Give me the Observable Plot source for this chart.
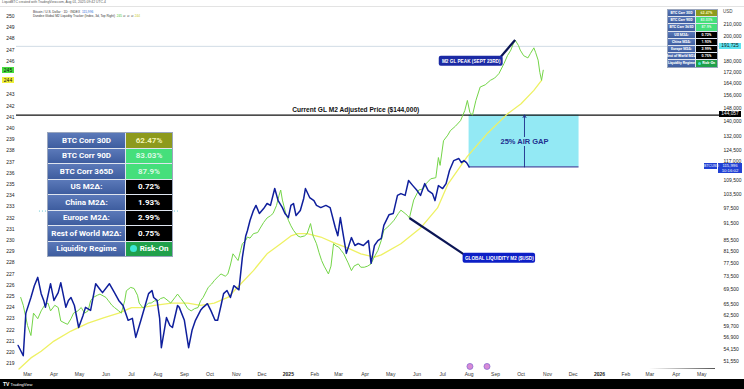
<!DOCTYPE html>
<html><head><meta charset="utf-8">
<script src="https://cdn.jsdelivr.net/npm/d3@7"></script>
<script src="https://cdn.jsdelivr.net/npm/@observablehq/plot@0.6"></script>
<style>
body{margin:0;background:#fff;}
#wrap{position:relative;width:744px;height:389px;overflow:hidden;background:#fff;font-family:"Liberation Sans",Arial,sans-serif;}
.layer{position:absolute;left:0;top:0;}
.abs{position:absolute;white-space:nowrap;}
.tbl{position:absolute;display:grid;font-family:Roboto,"Liberation Sans",sans-serif;font-weight:700;border:1px solid #9aa6bd;background:#dfe5ef;gap:1px;}
.tbl div{display:flex;align-items:center;justify-content:center;white-space:nowrap;}
.lab{background:linear-gradient(#5b79b9,#3e5d9f);color:#fff;}
</style></head><body><div id="wrap"></div>
<script>
// ---------------- data ----------------
const btcDates = ["2024-02-19","2024-02-25","2024-02-28","2024-03-05","2024-03-09","2024-03-13","2024-03-17","2024-03-20","2024-03-22","2024-03-28","2024-04-01","2024-04-06","2024-04-09","2024-04-15","2024-04-18","2024-04-21","2024-04-25","2024-04-30","2024-05-05","2024-05-08","2024-05-14","2024-05-20","2024-05-26","2024-05-28","2024-06-05","2024-06-11","2024-06-16","2024-06-21","2024-06-27","2024-07-02","2024-07-06","2024-07-12","2024-07-17","2024-07-21","2024-07-25","2024-07-27","2024-07-31","2024-08-03","2024-08-05","2024-08-11","2024-08-15","2024-08-18","2024-08-24","2024-08-26","2024-09-01","2024-09-06","2024-09-10","2024-09-14","2024-09-20","2024-09-23","2024-09-28","2024-10-02","2024-10-07","2024-10-10","2024-10-14","2024-10-17","2024-10-21","2024-10-25","2024-10-29","2024-11-04","2024-11-08","2024-11-12","2024-11-14","2024-11-17","2024-11-21","2024-11-24","2024-11-28","2024-12-03","2024-12-07","2024-12-11","2024-12-16","2024-12-20","2024-12-25","2024-12-28","2025-01-01","2025-01-04","2025-01-07","2025-01-10","2025-01-15","2025-01-19","2025-01-21","2025-01-26","2025-01-31","2025-02-03","2025-02-08","2025-02-14","2025-02-19","2025-02-25","2025-02-28","2025-03-03","2025-03-10","2025-03-16","2025-03-20","2025-03-24","2025-03-30","2025-04-05","2025-04-08","2025-04-12","2025-04-16","2025-04-20","2025-04-23","2025-04-29","2025-05-04","2025-05-09","2025-05-13","2025-05-18","2025-05-22","2025-05-27","2025-06-01","2025-06-05","2025-06-10","2025-06-14","2025-06-19","2025-06-22","2025-06-26","2025-07-01","2025-07-05","2025-07-09","2025-07-14","2025-07-20","2025-07-23","2025-07-26","2025-07-29","2025-07-31","2025-08-01"];
const btcPrices = [55100,52800,63000,67300,70700,73200,68400,66500,64600,71300,66500,68700,71600,64600,66500,67300,65100,59400,62400,64600,63800,71300,69300,68700,71300,68700,66500,65100,61200,61700,57000,61200,65100,68400,69300,67300,66500,61700,54600,61900,59900,59400,65100,64600,61200,54600,58700,61200,63800,64600,65600,63800,61200,61200,65100,68400,69300,67300,70700,69500,79500,87000,89000,92800,96700,98800,95500,97500,99600,98800,106000,100800,97900,95500,93900,98800,99600,94700,96700,101700,106000,102100,100800,98800,97900,98800,97900,90100,87100,93900,80900,86400,83600,84300,83600,85300,77600,83600,85300,86100,90900,95000,95500,103000,103800,103000,109600,107300,105100,103000,108200,105100,103800,100800,107300,106000,108200,114300,119100,120100,118100,119100,118100,116700,115996];

const m2Dates = ["2024-02-22","2024-02-25","2024-03-01","2024-03-05","2024-03-08","2024-03-13","2024-03-17","2024-03-21","2024-03-25","2024-03-28","2024-04-02","2024-04-06","2024-04-09","2024-04-14","2024-04-17","2024-04-21","2024-04-24","2024-04-29","2024-05-03","2024-05-07","2024-05-11","2024-05-14","2024-05-17","2024-05-22","2024-05-25","2024-06-01","2024-06-04","2024-06-08","2024-06-11","2024-06-16","2024-06-19","2024-06-23","2024-06-25","2024-06-30","2024-07-04","2024-07-08","2024-07-10","2024-07-14","2024-07-16","2024-07-21","2024-07-24","2024-07-28","2024-08-01","2024-08-04","2024-08-08","2024-08-13","2024-08-16","2024-08-21","2024-08-24","2024-08-28","2024-09-01","2024-09-05","2024-09-09","2024-09-13","2024-09-17","2024-09-20","2024-09-23","2024-09-27","2024-09-29","2024-10-03","2024-10-06","2024-10-11","2024-10-14","2024-10-19","2024-10-22","2024-10-25","2024-10-28","2024-11-01","2024-11-03","2024-11-06","2024-11-08","2024-11-12","2024-11-14","2024-11-17","2024-11-21","2024-11-26","2024-11-29","2024-12-03","2024-12-07","2024-12-11","2024-12-14","2024-12-18","2024-12-21","2024-12-23","2024-12-25","2024-12-29","2025-01-01","2025-01-04","2025-01-07","2025-01-12","2025-01-15","2025-01-20","2025-01-23","2025-01-27","2025-01-30","2025-02-03","2025-02-06","2025-02-09","2025-02-12","2025-02-17","2025-02-20","2025-02-23","2025-02-26","2025-03-01","2025-03-04","2025-03-07","2025-03-12","2025-03-16","2025-03-19","2025-03-24","2025-03-27","2025-03-31","2025-04-04","2025-04-08","2025-04-11","2025-04-16","2025-04-20","2025-04-23","2025-04-29","2025-05-05","2025-05-10","2025-05-13","2025-05-18","2025-05-21","2025-05-23","2025-05-28","2025-06-03","2025-06-08","2025-06-12","2025-06-17","2025-06-23","2025-06-26","2025-06-28","2025-07-02","2025-07-07","2025-07-10","2025-07-16","2025-07-22","2025-07-27","2025-07-30","2025-08-02","2025-08-05","2025-08-09","2025-08-14","2025-08-20","2025-08-26","2025-08-31","2025-09-05","2025-09-11","2025-09-15","2025-09-19","2025-09-22","2025-09-24","2025-09-28","2025-09-30","2025-10-04","2025-10-09","2025-10-12","2025-10-16","2025-10-18","2025-10-21","2025-10-23","2025-10-25","2025-10-27"];
const m2Values = [224.9,224.2,222.4,221.5,223.5,223.0,223.7,224.2,224.4,223.7,224.2,224.0,222.8,222.6,222.5,223.0,223.5,223.7,224.0,223.5,223.7,224.6,224.9,225.1,225.2,224.9,224.6,224.2,224.0,223.7,223.5,224.6,225.5,225.8,225.7,225.1,224.4,224.0,224.0,224.4,224.4,224.6,224.6,224.8,224.9,224.6,224.4,224.9,225.2,224.8,224.4,223.9,223.7,223.9,224.0,224.6,224.9,225.5,225.8,226.1,226.4,226.8,227.0,226.8,227.0,227.8,228.8,228.4,228.2,229.1,229.7,230.0,230.3,230.2,230.6,230.7,231.1,231.6,232.0,232.2,232.4,233.1,234.0,234.5,233.6,232.4,231.8,231.3,230.9,230.4,230.3,230.4,230.6,231.5,230.4,229.7,228.9,228.2,227.7,227.0,227.7,229.7,229.5,229.4,229.1,228.8,228.0,227.3,227.7,227.9,227.6,227.6,227.7,227.9,228.4,229.1,230.0,230.9,231.3,231.8,232.4,232.7,232.4,232.2,232.0,233.6,234.5,234.6,235.1,235.5,235.6,237.4,236.7,238.9,239.4,239.8,240.2,240.7,241.6,242.5,241.4,241.2,242.5,243.7,243.9,244.3,244.5,244.9,245.8,246.5,247.0,247.6,247.9,247.4,247.0,246.5,246.3,246.7,247.2,246.8,246.1,245.0,244.3,245.2];

const maDates = ["2024-02-20","2024-03-05","2024-03-17","2024-04-01","2024-04-21","2024-05-11","2024-05-30","2024-06-16","2024-07-01","2024-07-13","2024-07-28","2024-08-17","2024-09-05","2024-09-20","2024-10-06","2024-10-22","2024-11-06","2024-11-21","2024-12-07","2024-12-23","2025-01-04","2025-01-12","2025-01-23","2025-02-08","2025-02-23","2025-03-12","2025-03-27","2025-04-12","2025-04-20","2025-05-13","2025-06-05","2025-06-25","2025-07-07","2025-07-30","2025-08-23","2025-09-15","2025-10-01","2025-10-16","2025-10-25"];
const maValues = [218.5,219.5,220.1,221.0,221.9,222.6,223.1,223.5,224.0,224.0,224.2,224.4,224.4,224.2,224.4,224.9,226.1,227.3,228.8,229.7,230.4,230.6,230.6,230.3,229.8,229.3,228.8,228.5,228.7,229.7,231.1,232.9,235.0,237.5,239.6,241.3,242.2,243.4,244.3];

const leftTicks = [219,220,221,222,223,224,225,226,227,228,229,230,231,232,233,234,235,236,237,238,239,240,241,242,243,246,247,248,249,250];
const rightTicks = [210000,200000,180000,172000,164000,156000,148000,140000,132000,124500,109500,103500,97500,91500,85500,81500,77500,73500,69500,65500,62500,59700,56900,54150,51550];
const rightTickNearPrice = [117000];
const monthTicks = ["2024-03","2024-04","2024-05","2024-06","2024-07","2024-08","2024-09","2024-10","2024-11","2024-12","2025-01","2025-02","2025-03","2025-04","2025-05","2025-06","2025-07","2025-08","2025-09","2025-10","2025-11","2025-12","2026-01","2026-02","2026-03","2026-04","2026-05"];

const adjustedPrice = 144000;
const adjustedTag = 144057;
const peakLine = 191725;
const lastBtc = 115996;
const gap = {start:"2025-08-01", end:"2025-12-08", arrowAt:"2025-10-05", textValue:129000, label:"25% AIR GAP"};
const adjustedLabel = {date:"2025-03-21", text:"Current GL M2 Adjusted Price ($144,000)"};
const dotted = {start:"2024-03-15", end:"2024-08-25", value:96500};
const eventDates = ["2025-08-02","2025-08-22"];
const notes = [
  {label:"M2 GL PEAK (SEPT 23RD)", x1:"2025-06-27", x2:"2025-09-10", y1:245.55, y2:246.45, tipDate:"2025-09-24", tipValue:247.9, baseDate:"2025-09-06", baseValue:246.3, fill:"#1b2aa4"},
  {label:"GLOBAL LIQUIDITY M2 ($USD)", x1:"2025-07-25", x2:"2025-10-18", y1:227.95, y2:228.85, tipDate:"2025-05-23", tipValue:232.0, baseDate:"2025-07-29", baseValue:228.6, fill:"#0d1fc6"}
];
const tableLabels = ["BTC Corr 30D","BTC Corr 90D","BTC Corr 365D","US M2Δ:","China M2Δ:","Europe M2Δ:","Rest of World M2Δ:","Liquidity Regime"];
const tableValues = ["62.47%","83.03%","87.9%","0.72%","1.93%","2.99%","0.75%","Risk-On"];
const tableColors = [["#8d9a1d","#f3f5b5"],["#45df7b","#d9f8e3"],["#45df7b","#d9f8e3"],["#000","#fff"],["#000","#fff"],["#000","#fff"],["#000","#fff"],["#20a04b","#fff"]];

// ---------------- build ----------------
const parse = d3.utcParse("%Y-%m-%d");
const pm = d3.utcParse("%Y-%m");
const btc = btcDates.map((d,i)=>({date:parse(d), v:btcPrices[i]}));
const m2 = m2Dates.map((d,i)=>({date:parse(d), v:m2Values[i]}));
const ma = maDates.map((d,i)=>({date:parse(d), v:maValues[i]}));
const months = monthTicks.map(pm);

const W = 744, H = 389;
const font = "font-family:'Liberation Sans',Arial,sans-serif;";
const xS = {type:"utc", domain:[parse("2024-02-01"), parse("2026-05-20")], range:[2.3, 717.5]};
const yBtc = {type:"log", domain:[51550, 210000], range:[361, 24]};
const yM2 = {type:"linear", domain:[219, 250], range:[363, 16]};
const base = {width:W, height:H, marginLeft:16, marginRight:24, marginTop:8, marginBottom:20,
  style:"background:transparent;overflow:visible;" + font};

const wrap = document.getElementById("wrap");
function layer(p){ const d=document.createElement("div"); d.className="layer"; d.appendChild(p); wrap.appendChild(d); return p; }

// Layer 1: BTC-scale background marks + right axis
const g = {x1:parse(gap.start), x2:parse(gap.end), ax:parse(gap.arrowAt), y1:lastBtc, y2:adjustedPrice};
const p1 = layer(Plot.plot({...base, x:{...xS, axis:null}, y:{...yBtc, axis:null}, marks:[
  Plot.ruleY([peakLine], {stroke:"#c5d3e0", strokeWidth:0.8}),
  Plot.ruleY([dotted], {y:"value", x1:d=>parse(d.start), x2:d=>parse(d.end), stroke:"#6cc9d6", strokeDasharray:"1,2"}),
  Plot.rect([g], {x1:"x1", x2:"x2", y1:"y1", y2:"y2", fill:"#93e9f4"}),
  Plot.ruleY([g], {y:"y1", x1:"x1", x2:"x2", stroke:"#17228a", strokeWidth:1}),
  Plot.ruleY([adjustedPrice], {stroke:"#111", strokeWidth:1.3}),
  Plot.arrow([g], {x1:"ax", x2:"ax", y1:"y1", y2:"y2", stroke:"#1d2b8a", strokeWidth:0.9, headLength:5}),
  Plot.text([gap], {x:d=>parse(d.arrowAt), y:"textValue", text:"label", fill:"#1e2f8e", fontWeight:"bold", fontSize:7.5, stroke:"#93e9f4", strokeWidth:4}),
  Plot.text([adjustedLabel], {x:d=>parse(d.date), y:()=>adjustedPrice, text:"text", dy:-5.5, fill:"#111", fontWeight:"bold", fontSize:6.6}),
  Plot.dot(eventDates, {x:d=>parse(d), y:()=>50500, r:3, fill:"#d78ad6", stroke:"#8a6bd2", strokeWidth:0.8}),
  Plot.axisY({anchor:"right", ticks:rightTicks, tickSize:0, tickPadding:3, fontSize:5, fill:"#222", tickFormat:d3.format(",")}),
  Plot.axisY({anchor:"right", ticks:rightTickNearPrice, tickSize:0, tickPadding:3, dy:-3, fontSize:5, fill:"#222", tickFormat:d3.format(",")})
]}));

// Layer 2: M2 lines, left axis, x axis, annotations
const p2 = layer(Plot.plot({...base, x:{...xS}, y:{...yM2}, marks:[
  Plot.axisX(months.filter(d=>d.getUTCMonth()!==0), {tickSize:0, tickPadding:3, fontSize:5, fill:"#333", tickFormat:d3.utcFormat("%b")}),
  Plot.axisX(months.filter(d=>d.getUTCMonth()===0), {tickSize:0, tickPadding:3, fontSize:5, fill:"#222", fontWeight:"bold", tickFormat:d3.utcFormat("%Y")}),
  Plot.axisY({anchor:"left", ticks:leftTicks, tickSize:0, tickPadding:2, fontSize:5, fill:"#222"}),
  Plot.line(ma, {x:"date", y:"v", stroke:"#eef163", strokeWidth:1.3}),
  Plot.line(m2, {x:"date", y:"v", stroke:"#74d548", strokeWidth:1}),
  Plot.link(notes, {x1:d=>parse(d.tipDate), y1:"tipValue", x2:d=>parse(d.baseDate), y2:"baseValue", stroke:"#0b1555", strokeWidth:2.2}),
  Plot.rect(notes, {x1:d=>parse(d.x1), x2:d=>parse(d.x2), y1:"y1", y2:"y2", fill:"fill", rx:2}),
  Plot.text(notes, {x:d=>new Date((+parse(d.x1) + +parse(d.x2))/2), y:d=>(d.y1+d.y2)/2, text:"label", fill:"#fff", fontWeight:"bold", fontSize:4.7})
]}));

// Layer 3: BTC line on top
const p3 = layer(Plot.plot({...base, x:{...xS, axis:null}, y:{...yBtc, axis:null}, marks:[
  Plot.line(btc, {x:"date", y:"v", stroke:"#0f1f9c", strokeWidth:1.5})
]}));

// ---------------- HTML overlays ----------------
function el(html, css){ const d=document.createElement("div"); d.className="abs"; d.style.cssText=css; d.innerHTML=html; wrap.appendChild(d); return d; }
const yB = v => p1.scale("y").apply(v);
const yL = v => p2.scale("y").apply(v);

function tag(text, x, w, yc, h, bg, fg, fs){ el(text, `left:${x}px;top:${yc-h/2}px;width:${w}px;height:${h}px;line-height:${h}px;background:${bg};color:${fg};font-size:${fs}px;text-align:center;${font}`); }
tag(String(Math.round(m2Values[m2Values.length-1])), 2, 12, yL(m2Values[m2Values.length-1]), 6, "#46dc3e", "#111", 5);
tag(String(Math.round(maValues[maValues.length-1])), 2, 12, yL(maValues[maValues.length-1]), 6, "#f1f13a", "#111", 5);
tag(d3.format(",")(peakLine), 719, 22, yB(peakLine), 6, "#5de3ef", "#111", 4.8);
tag(d3.format(",")(adjustedTag), 719, 22, yB(adjustedTag), 6, "#000", "#fff", 4.8);
const yl = yB(lastBtc);
el(`${d3.format(",")(lastBtc)}<br>10:16:02`, `left:718px;top:${yl-3}px;width:24px;height:10px;line-height:5px;background:#2141d4;color:#fff;font-size:4.3px;text-align:center;${font}`);
el("BTCUSD", `left:704px;top:${yl-3}px;width:13px;height:6px;line-height:6px;background:#2141d4;color:#fff;font-size:3.6px;text-align:center;${font}`);
el("USD", `left:723px;top:9px;font-size:4.5px;color:#444;${font}`);

// header & legend
el("LiquidBTC created with TradingView.com, Aug 01, 2025 09:42 UTC-4", `left:2px;top:0px;font-size:3.4px;color:#555;${font}`);
el("", `left:0;top:6px;width:744px;height:0;border-top:0.5px solid #e3e3e3;`);
el(`Bitcoin / U.S. Dollar · 1D · INDEX &nbsp;<span style="color:#2a6bd8">${d3.format(",")(lastBtc)}</span>`, `left:33px;top:10px;font-size:3.2px;color:#333;${font}`);
el(`Dundee Global M2 Liquidity Tracker (Index, 3d, Top Right) &nbsp;<span style="color:#3fbf3a">245</span> ∅ ∅ ∅ <span style="color:#c9c92a">244</span>`, `left:33px;top:14px;font-size:3.2px;color:#333;${font}`);

// tables
function table(left, top, lw, vw, rh, fs, dot){
  const t = document.createElement("div"); t.className="tbl";
  t.style.cssText = `left:${left}px;top:${top}px;grid-template-columns:${lw}px ${vw}px;grid-auto-rows:${rh}px;font-size:${fs}px;`;
  tableLabels.forEach((lab,i)=>{
    const a=document.createElement("div"); a.className="lab"; a.textContent=lab; t.appendChild(a);
    const b=document.createElement("div"); b.style.background=tableColors[i][0]; b.style.color=tableColors[i][1];
    if(i===tableLabels.length-1){ b.innerHTML=`<span style="display:inline-block;width:${dot}px;height:${dot}px;border-radius:50%;background:#3de6d4;margin-right:${dot*0.45}px"></span>${tableValues[i]}`; }
    else b.textContent=tableValues[i];
    t.appendChild(b);
  });
  wrap.appendChild(t);
}
table(47, 132, 77, 46, 14.5, 8, 7);
table(667, 9, 27, 21, 6.2, 3.6, 3);

// footer
el(`<b style="font-size:5px">TV</b> TradingView`, `left:0;top:379px;width:744px;height:10px;background:#000;color:#fff;font-size:4px;line-height:10px;padding-left:3px;${font}`);
el("", `left:649px;top:368px;width:66px;height:1px;background:linear-gradient(90deg,rgba(0,0,0,0),#555);`);
</script></body></html>
